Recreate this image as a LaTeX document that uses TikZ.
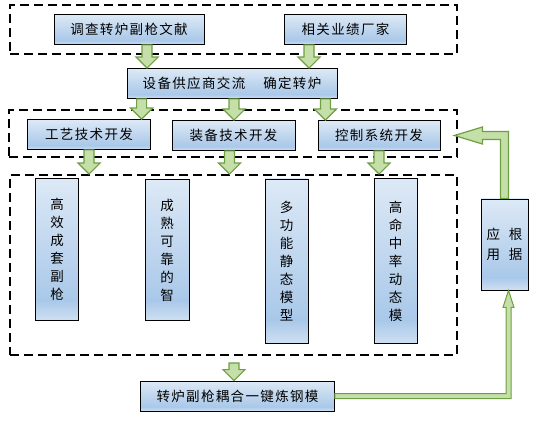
\documentclass[tikz,border=0pt]{standalone}
\usepackage{fontspec}
\usepackage{tikz}
\usetikzlibrary{calc}
\newfontfamily\cjk[LetterSpace=10]{Noto Sans CJK SC}
\definecolor{bt}{HTML}{DDE9F6}
\definecolor{bm}{HTML}{A9C8E9}
\definecolor{bb}{HTML}{CFE0F2}
\definecolor{gf}{HTML}{C4DFA8}
\definecolor{gd}{HTML}{6F9E45}
\pgfdeclareverticalshading{bxs}{100bp}{color(0bp)=(bb);color(25bp)=(bb);color(32bp)=(bm);color(75bp)=(bt);color(100bp)=(bt)}
\newcommand\gdown[2]{%
  \coordinate (gt) at (#1 |- #2.north);
  \draw[g]($(#1)+(-5,0)$)--($(gt)+(-5,-11)$)--($(gt)+(-11,-11)$)--(gt)
    --($(gt)+(11,-11)$)--($(gt)+(5,-11)$)--($(#1)+(5,0)$)--cycle;}

\begin{document}
\begin{tikzpicture}[x=1pt,y=-1pt,
  bx/.style={draw=black,line width=0.8pt,shading=bxs,inner sep=0pt,align=center,
    font=\cjk\fontsize{13.5}{18}\selectfont,minimum height=30pt},
  dsh/.style={draw=black,line width=1.8pt,dash pattern=on 9pt off 5pt,inner sep=0pt},
  g/.style={draw=gd,fill=gf,line width=1.2pt,line join=miter}]
\useasboundingbox (0,0) rectangle (539,425);
\node[dsh,minimum width=447pt,minimum height=49pt](k1) at (233.5,29.5){};
\node[dsh,minimum width=448pt,minimum height=47pt](k2) at (233,133.5){};
\node[dsh,minimum width=447pt,minimum height=180pt](k3) at (233.5,265){};
\node[bx,minimum width=150pt](A) at (129,29.5){调查转炉副枪文献};
\node[bx,minimum width=122pt](B) at (345.5,29.5){相关业绩厂家};
\node[bx,minimum width=210pt](C) at (232,83.5){设备供应商交流\hspace{18pt}确定转炉};
\node[bx,minimum width=123pt](D) at (89,134.5){工艺技术开发};
\node[bx,minimum width=123pt](E) at (233.5,135.5){装备技术开发};
\node[bx,minimum width=122pt](F) at (379,135.5){控制系统开发};
\node[bx,minimum width=43pt,minimum height=142pt](V1) at (57,249.5){高\\效\\成\\套\\副\\枪};
\node[bx,minimum width=44pt,minimum height=141pt](V2) at (167,250){成\\熟\\可\\靠\\的\\智};
\node[bx,minimum width=43pt,minimum height=164pt](V3) at (286.5,261){多\\功\\能\\静\\态\\模\\型};
\node[bx,minimum width=43pt,minimum height=165pt](V4) at (395.5,261){高\\命\\中\\率\\动\\态\\模};
\node[bx,minimum width=47pt,minimum height=91pt,font=\cjk\fontsize{13.5}{20}\selectfont](R) at (504.5,244.5){应\hspace{9pt}根\\用\hspace{9pt}据};
\node[bx,minimum width=194pt](G) at (237.5,396){转炉副枪耦合一键炼钢模};
\coordinate (a1) at ($(A.south)+(18,0)$);
\coordinate (b1) at ($(B.south)+(-36.5,0)$);
\coordinate (c1) at ($(C.south west)+(15,0)$);
\coordinate (c2) at ($(C.south)+(2,0)$);
\coordinate (c3) at ($(C.south east)+(-12,0)$);
\coordinate (e1) at ($(E.south)+(-4,0)$);
\coordinate (k4) at ($(k3.south)+(0.5,7)$);
\foreach \s/\t in {a1/C,b1/C,c1/D,c2/E,c3/F,D.south/k3,e1/k3,F.south/k3,k4/G}
  \gdown{\s}{\t};
\coordinate (rt) at ($(R.south)+(4,0)$);
\coordinate (rc) at (rt |- G.east);
\draw[g,line width=1pt]($(G.east)+(0,-2.5)$)--($(rc)+(-2.5,-2.5)$)--($(rt)+(-2.5,17)$)--($(rt)+(-5.5,17)$)--(rt)
  --($(rt)+(5.5,17)$)--($(rt)+(2.5,17)$)--($(rc)+(2.5,2.5)$)--($(G.east)+(0,2.5)$)--cycle;
\coordinate (lt) at ($(F.east)+(14,0)$);
\coordinate (lc) at (R.north |- lt);
\draw[g]($(R.north)+(-4,0)$)--($(lc)+(-4,4)$)--($(lt)+(28,4)$)--($(lt)+(28,8.5)$)--(lt)
  --($(lt)+(28,-8.5)$)--($(lt)+(28,-4)$)--($(lc)+(4,-4)$)--($(R.north)+(4,0)$)--cycle;
\end{tikzpicture}
\end{document}
